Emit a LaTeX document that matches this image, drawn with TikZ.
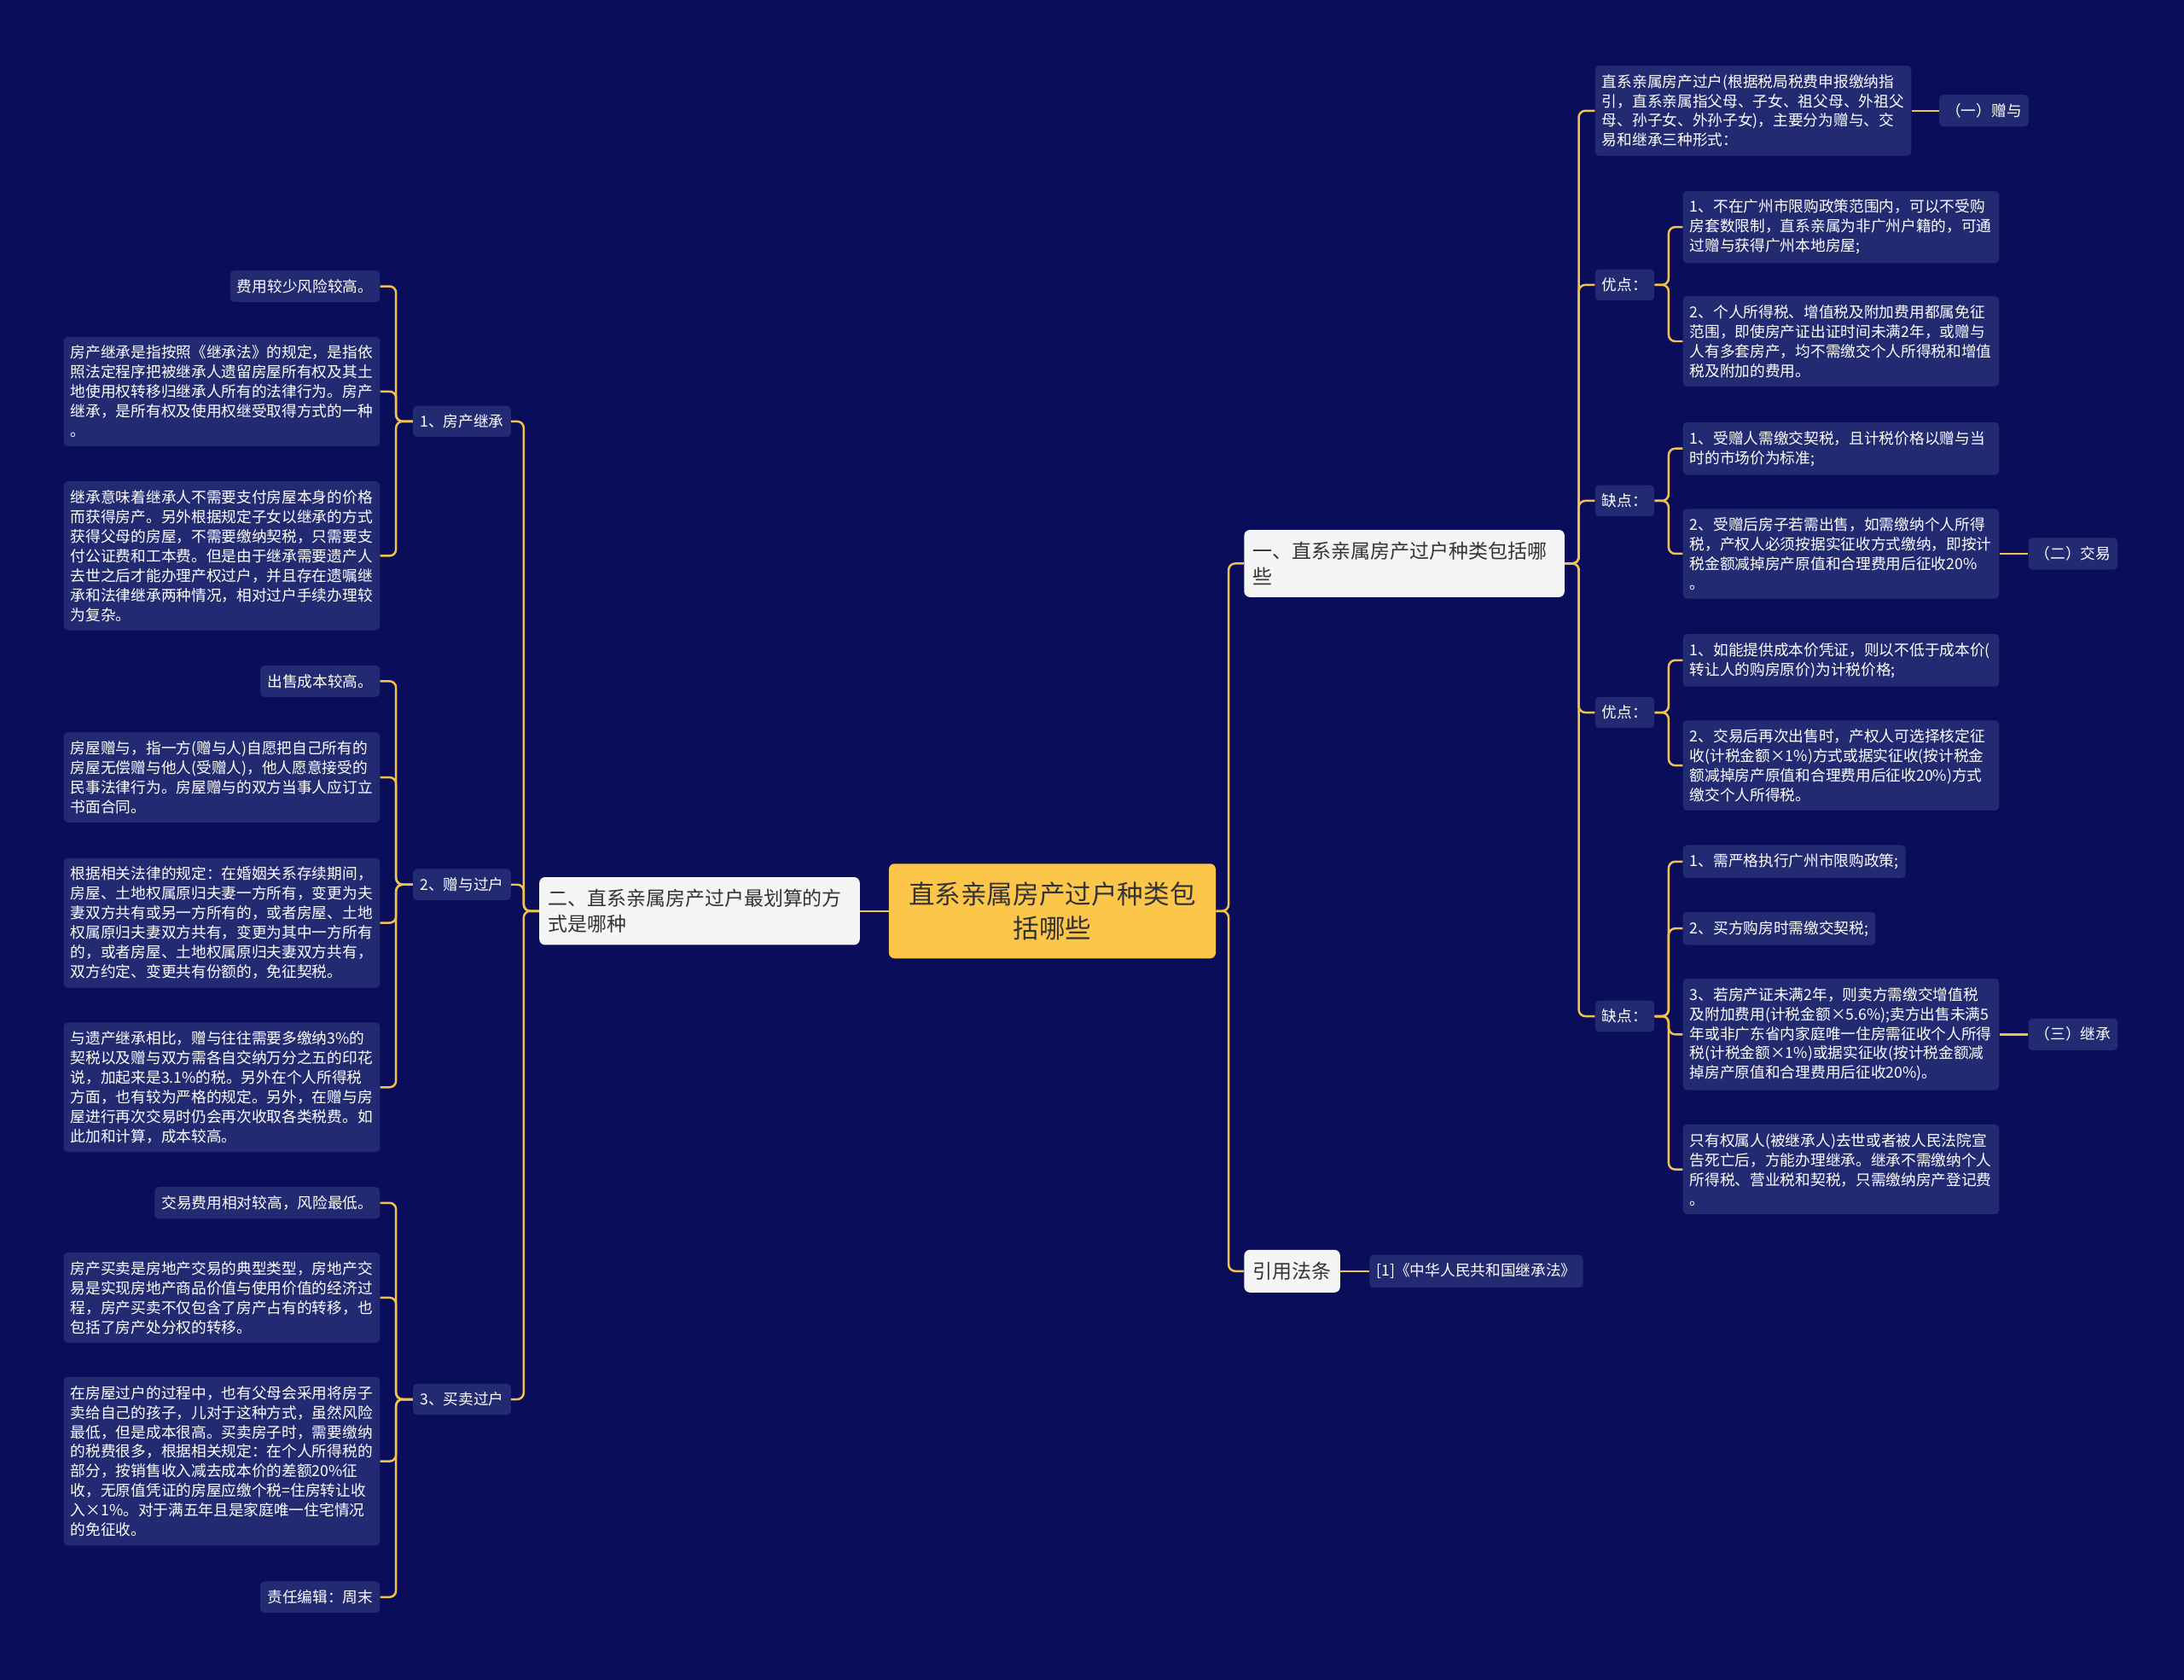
\documentclass[tikz,border=0pt]{standalone}
\usepackage{fontspec}
\setmainfont{Noto Sans CJK SC}
\definecolor{bgnavy}{HTML}{0A0E5A}
\definecolor{leafbg}{HTML}{222A72}
\definecolor{linkc}{HTML}{F2C14E}
\definecolor{rootbg}{HTML}{FCC64A}
\definecolor{mainbg}{HTML}{F5F5F5}
\definecolor{darktext}{HTML}{333333}
\tikzset{
  leaf/.style={fill=leafbg, text=white, rounded corners=2.5pt, inner xsep=0.15cm, inner ysep=5.3pt,
    font=\fontsize{9.25}{12}\selectfont, align=left},
  leafwide/.style={leaf, text width=6.51cm},
  mainbox/.style={fill=mainbg, text=darktext, rounded corners=3.5pt, inner xsep=0.19cm, inner ysep=7.5pt,
    font=\fontsize{12}{15.4}\selectfont, align=left},
  rootbox/.style={fill=rootbg, text=darktext, rounded corners=3.5pt, text width=6.4cm, inner xsep=0.32cm,
    minimum height=2.04cm, font=\fontsize{16}{20.5}\selectfont, align=center},
  link/.style={draw=linkc, line width=1.3pt, rounded corners=4pt}
}
\begin{document}
\begin{tikzpicture}[x=0.03cm,y=-0.03cm]
\path[use as bounding box, fill=bgnavy] (0,0) rectangle (1568,1206);

\node[rootbox] (root) at (755.5,654) {直系亲属房产过户种类包\\括哪些};
\node[mainbox, text width=6.52cm, anchor=west] (m2) at (387,654) {二、直系亲属房产过户最划算的方\\式是哪种};
\node[mainbox, text width=6.52cm, anchor=west] (m1) at (893,404.5) {一、直系亲属房产过户种类包括哪\\些};
\node[mainbox, anchor=west] (m3) at (893,912.5) {引用法条};
\node[leaf, anchor=west] (cite) at (983,912.5) {[1]《中华人民共和国继承法》};

\node[leaf, anchor=east] (b1) at (367,302.5) {1、房产继承};
\node[leaf, anchor=east] (b2) at (367,635) {2、赠与过户};
\node[leaf, anchor=east] (b3) at (367,1004.5) {3、买卖过户};

\node[leaf, anchor=east] (l1a) at (273,205.5) {费用较少风险较高。};
\node[leafwide, anchor=east] (l1b) at (273,281) {房产继承是指按照《继承法》的规定，是指依\\照法定程序把被继承人遗留房屋所有权及其土\\地使用权转移归继承人所有的法律行为。房产\\继承，是所有权及使用权继受取得方式的一种\\。};
\node[leafwide, anchor=east] (l1c) at (273,399) {继承意味着继承人不需要支付房屋本身的价格\\而获得房产。另外根据规定子女以继承的方式\\获得父母的房屋，不需要缴纳契税，只需要支\\付公证费和工本费。但是由于继承需要遗产人\\去世之后才能办理产权过户，并且存在遗嘱继\\承和法律继承两种情况，相对过户手续办理较\\为复杂。};
\node[leaf, anchor=east] (l2a) at (273,489) {出售成本较高。};
\node[leafwide, anchor=east] (l2b) at (273,558) {房屋赠与，指一方(赠与人)自愿把自己所有的\\房屋无偿赠与他人(受赠人)，他人愿意接受的\\民事法律行为。房屋赠与的双方当事人应订立\\书面合同。};
\node[leafwide, anchor=east] (l2c) at (273,662.5) {根据相关法律的规定：在婚姻关系存续期间，\\房屋、土地权属原归夫妻一方所有，变更为夫\\妻双方共有或另一方所有的，或者房屋、土地\\权属原归夫妻双方共有，变更为其中一方所有\\的，或者房屋、土地权属原归夫妻双方共有，\\双方约定、变更共有份额的，免征契税。};
\node[leafwide, anchor=east] (l2d) at (273,780.5) {与遗产继承相比，赠与往往需要多缴纳3\%的\\契税以及赠与双方需各自交纳万分之五的印花\\说，加起来是3.1\%的税。另外在个人所得税\\方面，也有较为严格的规定。另外，在赠与房\\屋进行再次交易时仍会再次收取各类税费。如\\此加和计算，成本较高。};
\node[leaf, anchor=east] (l3a) at (273,863.5) {交易费用相对较高，风险最低。};
\node[leafwide, anchor=east] (l3b) at (273,931.5) {房产买卖是房地产交易的典型类型，房地产交\\易是实现房地产商品价值与使用价值的经济过\\程，房产买卖不仅包含了房产占有的转移，也\\包括了房产处分权的转移。};
\node[leafwide, anchor=east] (l3c) at (273,1049) {在房屋过户的过程中，也有父母会采用将房子\\卖给自己的孩子，儿对于这种方式，虽然风险\\最低，但是成本很高。买卖房子时，需要缴纳\\的税费很多，根据相关规定：在个人所得税的\\部分，按销售收入减去成本价的差额20\%征\\收，无原值凭证的房屋应缴个税=住房转让收\\入×1\%。对于满五年且是家庭唯一住宅情况\\的免征收。};
\node[leaf, anchor=east] (l3d) at (273,1146.5) {责任编辑：周末};

\node[leafwide, anchor=west] (r0) at (1145,79.5) {直系亲属房产过户(根据税局税费申报缴纳指\\引，直系亲属指父母、子女、祖父母、外祖父\\母、孙子女、外孙子女)，主要分为赠与、交\\易和继承三种形式：};
\node[leaf, anchor=west] (r0x) at (1392,79.5) {（一）赠与};
\node[leaf, anchor=west] (y1) at (1145,204.5) {优点：};
\node[leaf, anchor=west] (q1) at (1145,359.5) {缺点：};
\node[leaf, anchor=west] (y2) at (1145,511.5) {优点：};
\node[leaf, anchor=west] (q2) at (1145,729.5) {缺点：};

\node[leafwide, anchor=west] (y1a) at (1208,163) {1、不在广州市限购政策范围内，可以不受购\\房套数限制，直系亲属为非广州户籍的，可通\\过赠与获得广州本地房屋;};
\node[leafwide, anchor=west] (y1b) at (1208,245) {2、个人所得税、增值税及附加费用都属免征\\范围，即使房产证出证时间未满2年，或赠与\\人有多套房产，均不需缴交个人所得税和增值\\税及附加的费用。};
\node[leafwide, anchor=west] (q1a) at (1208,322) {1、受赠人需缴交契税，且计税价格以赠与当\\时的市场价为标准;};
\node[leafwide, anchor=west] (q1b) at (1208,397.5) {2、受赠后房子若需出售，如需缴纳个人所得\\税，产权人必须按据实征收方式缴纳，即按计\\税金额减掉房产原值和合理费用后征收20\%\\。};
\node[leaf, anchor=west] (q1x) at (1456,397.5) {（二）交易};
\node[leafwide, anchor=west] (y2a) at (1208,474) {1、如能提供成本价凭证，则以不低于成本价(\\转让人的购房原价)为计税价格;};
\node[leafwide, anchor=west] (y2b) at (1208,549.5) {2、交易后再次出售时，产权人可选择核定征\\收(计税金额×1\%)方式或据实征收(按计税金\\额减掉房产原值和合理费用后征收20\%)方式\\缴交个人所得税。};
\node[leaf, anchor=west] (q2a) at (1208,618.5) {1、需严格执行广州市限购政策;};
\node[leaf, anchor=west] (q2b) at (1208,666.5) {2、买方购房时需缴交契税;};
\node[leafwide, anchor=west] (q2c) at (1208,742.5) {3、若房产证未满2年，则卖方需缴交增值税\\及附加费用(计税金额×5.6\%);卖方出售未满5\\年或非广东省内家庭唯一住房需征收个人所得\\税(计税金额×1\%)或据实征收(按计税金额减\\掉房产原值和合理费用后征收20\%)。};
\node[leaf, anchor=west] (q2x) at (1456,742.5) {（三）继承};
\node[leafwide, anchor=west] (q2d) at (1208,839.5) {只有权属人(被继承人)去世或者被人民法院宣\\告死亡后，方能办理继承。继承不需缴纳个人\\所得税、营业税和契税，只需缴纳房产登记费\\。};

\draw[link] (root.west) -- (m2.east);
\foreach \c in {m1,m3} \draw[link] (root.east) -- ++(9,0) |- (\c.west);
\foreach \c in {b1,b2,b3} \draw[link] (m2.west) -- ++(-11,0) |- (\c.east);
\foreach \c in {l1a,l1b,l1c} \draw[link] (b1.west) -- ++(-12,0) |- (\c.east);
\foreach \c in {l2a,l2b,l2c,l2d} \draw[link] (b2.west) -- ++(-12,0) |- (\c.east);
\foreach \c in {l3a,l3b,l3c,l3d} \draw[link] (b3.west) -- ++(-12,0) |- (\c.east);
\foreach \c in {r0,y1,q1,y2,q2} \draw[link] (m1.east) -- ++(10,0) |- (\c.west);
\foreach \c in {y1a,y1b} \draw[link] (y1.east) -- ++(10,0) |- (\c.west);
\foreach \c in {q1a,q1b} \draw[link] (q1.east) -- ++(10,0) |- (\c.west);
\foreach \c in {y2a,y2b} \draw[link] (y2.east) -- ++(10,0) |- (\c.west);
\foreach \c in {q2a,q2b,q2c,q2d} \draw[link] (q2.east) -- ++(10,0) |- (\c.west);
\draw[link] (r0.east) -- (r0x.west);
\draw[link] (q1b.east) -- (q1x.west);
\draw[link] (q2c.east) -- (q2x.west);
\draw[link] (m3.east) -- (cite.west);
\end{tikzpicture}
\end{document}
